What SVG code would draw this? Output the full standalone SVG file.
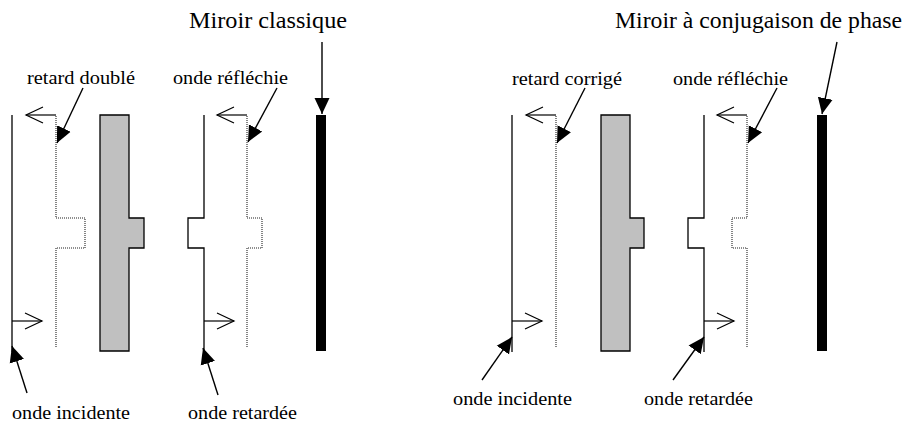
<svg xmlns="http://www.w3.org/2000/svg" width="914" height="426" viewBox="0 0 914 426">
<defs>
<marker id="fh" markerUnits="userSpaceOnUse" markerWidth="18" markerHeight="18" viewBox="0 0 18 18" refX="16" refY="9" orient="auto"><path d="M0,1.5 L16,9 L0,16.5 Z" fill="#000"/></marker>
<marker id="oh" markerUnits="userSpaceOnUse" markerWidth="20" markerHeight="20" viewBox="0 0 20 20" refX="18" refY="10" orient="auto"><path d="M1,2 L18,10 L1,18" fill="none" stroke="#000" stroke-width="1.2"/></marker>
</defs>
<style>
.t{font-family:"Liberation Serif","Times New Roman",Times,serif;font-size:19px;fill:#000}
.tt{font-family:"Liberation Serif","Times New Roman",Times,serif;font-size:23px;fill:#000}
.w{fill:none;stroke:#000;stroke-width:1.3}
.d{fill:none;stroke:#222;stroke-width:1.1;stroke-dasharray:1 1}
.g{fill:#c0c0c0;stroke:#000;stroke-width:1.3}
.m{fill:#000}
.l{fill:none;stroke:#000;stroke-width:1.4}
.a{fill:none;stroke:#000;stroke-width:1.2}
</style>
<rect width="914" height="426" fill="#fff"/>
<!-- Left panel -->
<g id="left-incident"><path class="w" d="M12,115 V352"/></g>
<g id="left-doubled"><path class="d" d="M56,116 V218 H85 V248 H56 V348"/></g>
<g id="left-plate"><path class="g" d="M100,115 H129 V218 H144 V248 H129 V351 H100 Z"/></g>
<g id="left-delayed"><path class="w" d="M204,115 V218 H188 V248 H204 V352"/></g>
<g id="left-reflected"><path class="d" d="M247,116 V218 H262 V248 H247 V348"/></g>
<g id="left-mirror"><rect class="m" x="316" y="115" width="10" height="236"/></g>
<!-- Right panel -->
<g id="right-incident"><path class="w" d="M512,115 V352"/></g>
<g id="right-corrected"><path class="d" d="M556,116 V348"/></g>
<g id="right-plate"><path class="g" d="M601,115 H630 V218 H644 V248 H630 V351 H601 Z"/></g>
<g id="right-delayed"><path class="w" d="M704,115 V218 H688 V248 H704 V352"/></g>
<g id="right-reflected"><path class="d" d="M747,116 V218 H732 V248 H747 V348"/></g>
<g id="right-mirror"><rect class="m" x="817" y="115" width="10" height="236"/></g>
<!-- Labels -->
<g id="title-left"><text class="tt" x="189" y="28" textLength="158" lengthAdjust="spacingAndGlyphs">Miroir classique</text></g>
<g id="title-right"><text class="tt" x="615" y="28" textLength="287" lengthAdjust="spacingAndGlyphs">Miroir à conjugaison de phase</text></g>
<g id="lbl-retard-double"><text class="t" x="27" y="84" textLength="108" lengthAdjust="spacingAndGlyphs">retard doublé</text></g>
<g id="lbl-reflechie-left"><text class="t" x="173" y="84" textLength="115" lengthAdjust="spacingAndGlyphs">onde réfléchie</text></g>
<g id="lbl-retard-corrige"><text class="t" x="512" y="85" textLength="110" lengthAdjust="spacingAndGlyphs">retard corrigé</text></g>
<g id="lbl-reflechie-right"><text class="t" x="673" y="85" textLength="115" lengthAdjust="spacingAndGlyphs">onde réfléchie</text></g>
<g id="lbl-incidente-left"><text class="t" x="12" y="419" textLength="118" lengthAdjust="spacingAndGlyphs">onde incidente</text></g>
<g id="lbl-retardee-left"><text class="t" x="188" y="419" textLength="109" lengthAdjust="spacingAndGlyphs">onde retardée</text></g>
<g id="lbl-incidente-right"><text class="t" x="453" y="405" textLength="119" lengthAdjust="spacingAndGlyphs">onde incidente</text></g>
<g id="lbl-retardee-right"><text class="t" x="644" y="405" textLength="109" lengthAdjust="spacingAndGlyphs">onde retardée</text></g>
<!-- Connectors -->
<g id="connectors">
<path class="a" d="M56,115 H26" marker-end="url(#oh)"/>
<path class="a" d="M12,321 H42" marker-end="url(#oh)"/>
<path class="a" d="M247,115 H217" marker-end="url(#oh)"/>
<path class="a" d="M204,321 H234" marker-end="url(#oh)"/>
<path class="a" d="M556,115 H526" marker-end="url(#oh)"/>
<path class="a" d="M512,321 H542" marker-end="url(#oh)"/>
<path class="a" d="M747,115 H717" marker-end="url(#oh)"/>
<path class="a" d="M704,321 H734" marker-end="url(#oh)"/>
<path class="l" d="M83,88 L57,143" marker-end="url(#fh)"/>
<path class="l" d="M277,88 L248,142" marker-end="url(#fh)"/>
<path class="l" d="M322,42 V114" marker-end="url(#fh)"/>
<path class="l" d="M585,88 L557,143" marker-end="url(#fh)"/>
<path class="l" d="M777,88 L748,143" marker-end="url(#fh)"/>
<path class="l" d="M837,42 L822,114" marker-end="url(#fh)"/>
<path class="l" d="M27,393 L12,346" marker-end="url(#fh)"/>
<path class="l" d="M218,395 L203,348" marker-end="url(#fh)"/>
<path class="l" d="M482,380 L512,337" marker-end="url(#fh)"/>
<path class="l" d="M673,380 L704,337" marker-end="url(#fh)"/>
</g>
</svg>
